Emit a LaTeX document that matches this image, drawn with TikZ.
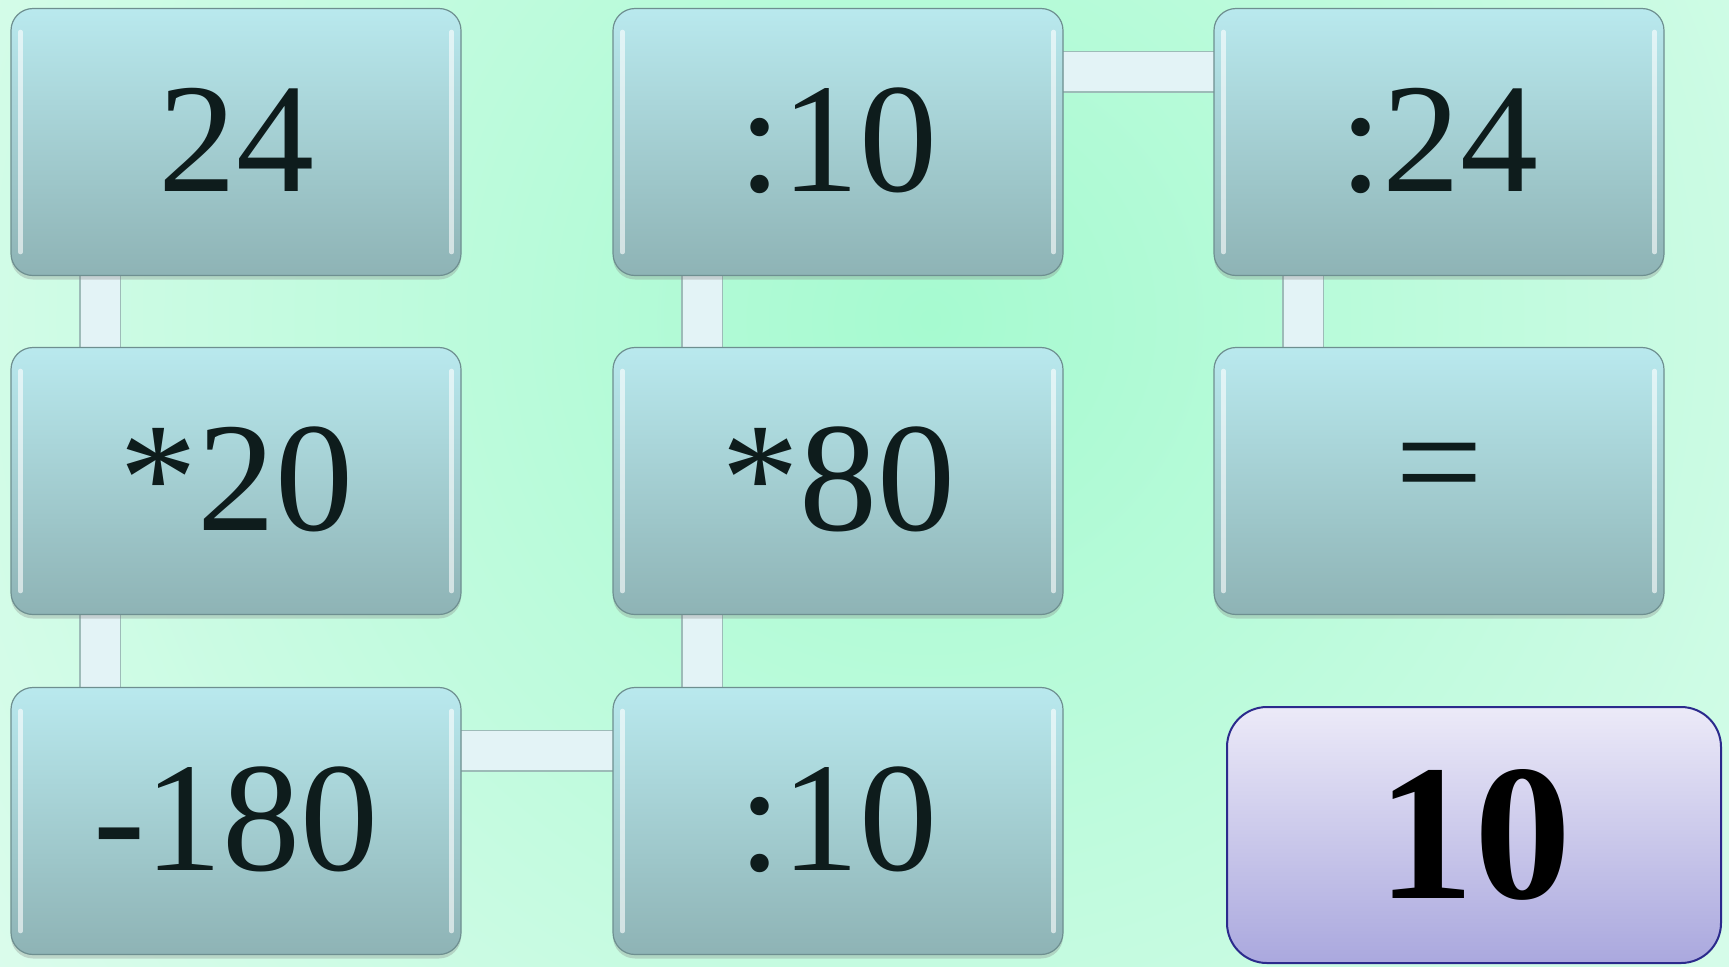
\documentclass[tikz,border=0pt]{standalone}
\usepackage{fontspec}
\setmainfont{Liberation Serif}
\usetikzlibrary{calc,shadows}
\pgfdeclarelayer{back}
\pgfdeclarelayer{bg}
\pgfsetlayers{back,bg,main}
\definecolor{bgIn}{HTML}{A6FAD0}
\definecolor{bgOut}{HTML}{F2FDF8}
\definecolor{tileT}{HTML}{B9E9EE}
\definecolor{tileB}{HTML}{8EB3B5}
\definecolor{tileE}{HTML}{6E8F90}
\definecolor{tileTxt}{HTML}{0E1C1C}
\definecolor{linkC}{HTML}{E3F3F6}
\definecolor{linkE}{HTML}{9DBBB8}
\definecolor{ansT}{HTML}{ECEAF8}
\definecolor{ansB}{HTML}{AAA8DE}
\definecolor{ansE}{HTML}{2B2A8C}
\tikzset{
  tile/.style={rounded corners=11pt, minimum width=225pt, minimum height=133.5pt,
    top color=tileT, bottom color=tileB, draw=tileE, line width=0.6pt, inner sep=0pt,
    text=tileTxt, font=\fontsize{78}{78}\selectfont,
    drop shadow={opacity=0.3, shadow xshift=0pt, shadow yshift=-2pt}},
  answer/.style={rounded corners=20pt, minimum width=247pt, minimum height=128pt,
    top color=ansT, bottom color=ansB, draw=ansE, line width=1pt, inner sep=0pt,
    text=black, font=\fontsize{97}{97}\selectfont\bfseries},
  bevelline/.style={white, opacity=0.6, line width=2.2pt, line cap=round},
  linkout/.style={linkE, line width=21pt},
  linkin/.style={linkC, line width=19.5pt}
}
\newcommand\tilebevel[1]{%
  \draw[bevelline] ($(#1.north west)+(10,24)$) -- ($(#1.south west)+(10,-24)$);
  \draw[bevelline] ($(#1.north east)+(-10,24)$) -- ($(#1.south east)+(-10,-24)$);}
\newcommand\vlink[2]{%
  \draw[linkout] ($(#1.south west)+(90,-2)$) -- ($(#2.north west)+(90,2)$);
  \draw[linkin] ($(#1.south west)+(90,-4)$) -- ($(#2.north west)+(90,4)$);}
\newcommand\hlink[2]{%
  \draw[linkout] ($(#1.north east)+(-2,64)$) -- ($(#2.north west)+(2,64)$);
  \draw[linkin] ($(#1.north east)+(-4,64)$) -- ($(#2.north west)+(4,64)$);}
\begin{document}
\begin{tikzpicture}[x=0.5pt,y=-0.5pt]
\useasboundingbox (0,0) rectangle (1729,966);
\begin{pgfonlayer}{back}
  \begin{scope}
    \clip (0,0) rectangle (1729,966);
    \shade[inner color=bgIn, outer color=bgOut] (930,320) circle (820pt);
  \end{scope}
\end{pgfonlayer}
% tiles
\node[tile, text depth=0pt] (a) at (236,142) {\raisebox{2.3pt}{24}};
\node[tile] (b) at (236,481) {\raisebox{2.3pt}{*20}};
\node[tile] (c) at (236,821) {\raisebox{2.3pt}{-180}};
\node[tile] (d) at (838,821) {\raisebox{2.3pt}{:10}};
\node[tile] (e) at (838,481) {\raisebox{2.3pt}{*80}};
\node[tile] (f) at (838,142) {\raisebox{2.3pt}{:10}};
\node[tile] (g) at (1439,142) {\raisebox{2.3pt}{:24}};
\node[tile] (h) at (1439,481) {\raisebox{2.3pt}{=}};
\node[answer] (ans) at (1474,835) {\raisebox{-2.5pt}{10}};
\foreach \n in {a,b,c,d,e,f,g,h} {\tilebevel{\n}}
\begin{pgfonlayer}{bg}
  \vlink{a}{b}
  \vlink{b}{c}
  \hlink{c}{d}
  \vlink{e}{d}
  \vlink{f}{e}
  \hlink{f}{g}
  \vlink{g}{h}
\end{pgfonlayer}
\end{tikzpicture}
\end{document}
